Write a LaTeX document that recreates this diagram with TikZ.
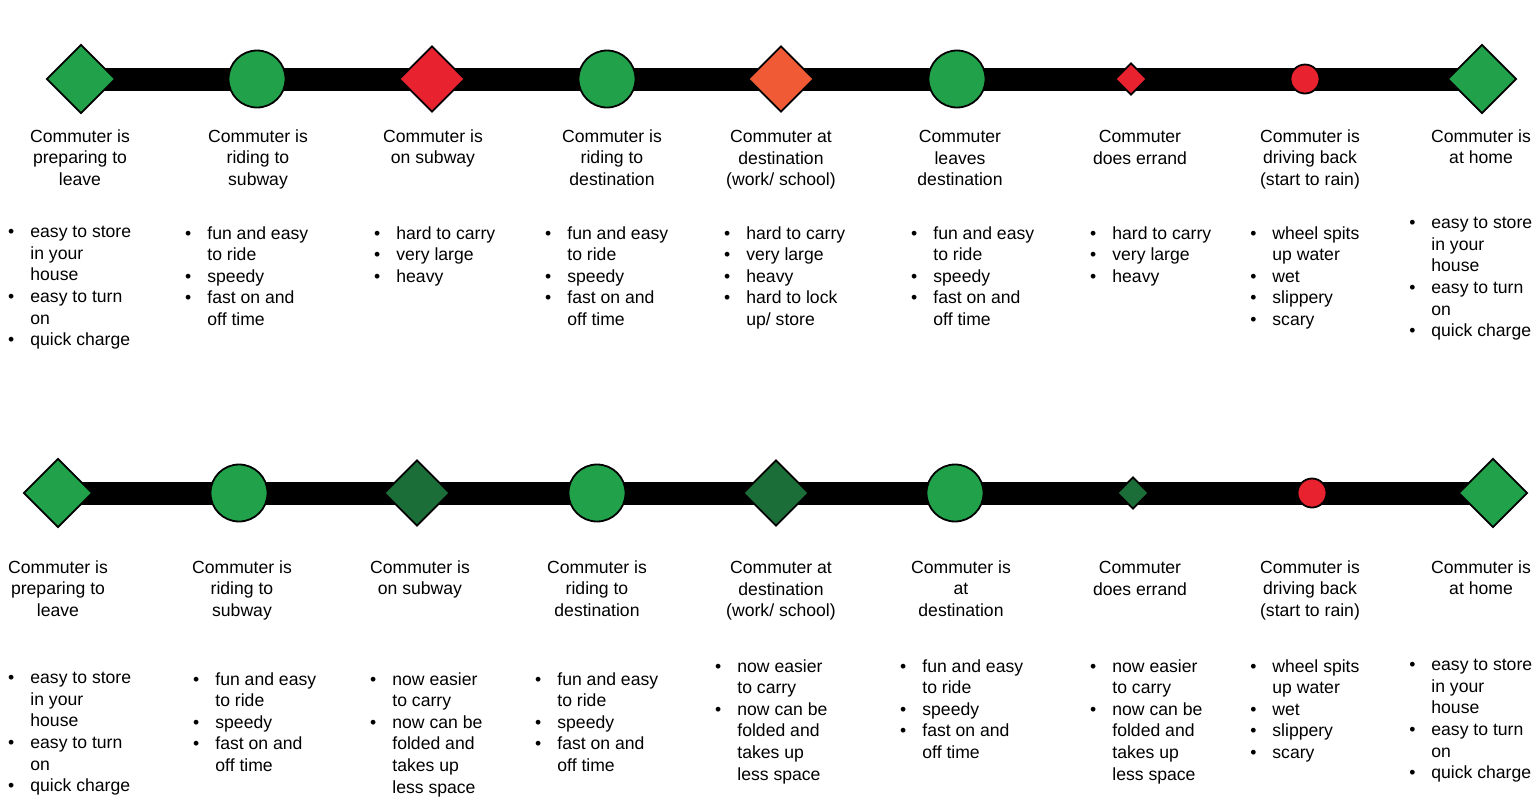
\documentclass[tikz,border=0pt]{standalone}
\usepackage{fontspec}
\setmainfont{Liberation Sans}
\usetikzlibrary{shapes.geometric,backgrounds}

\definecolor{okgreen}{HTML}{22A14B}
\definecolor{deepgreen}{HTML}{1C6E38}
\definecolor{badred}{HTML}{E8222E}
\definecolor{midorange}{HTML}{F05A35}

\newcommand{\bul}{\llap{\textbullet\hspace{8pt}}}

\tikzset{
	stage/.style={draw=black, line width=0.9pt, inner sep=0pt},
	bigdia/.style={stage, diamond, aspect=1, minimum size=34.5pt},
	middia/.style={stage, diamond, aspect=1, minimum size=33pt},
	smalldia/.style={stage, diamond, aspect=1, minimum size=16pt},
	bigdot/.style={stage, circle, minimum size=28.5pt},
	smalldot/.style={stage, circle, minimum size=14.5pt},
	bar/.style={line width=11.5pt, black},
	title/.style={anchor=north, align=center, inner sep=0pt, font=\fontsize{8.8}{10.8}\selectfont},
	items/.style={anchor=north west, align=left, inner sep=0pt, font=\fontsize{8.8}{10.8}\selectfont}
}

\begin{document}
\begin{tikzpicture}[x=0.5pt, y=-0.5pt]
		\useasboundingbox (0, 0) rectangle (1538, 810);

		% top journey
		\node[bigdia, fill=okgreen] (a1) at (81, 79) {};
		\node[bigdot, fill=okgreen] (a2) at (257, 79) {};
		\node[middia, fill=badred] (a3) at (432, 79) {};
		\node[bigdot, fill=okgreen] (a4) at (607, 79) {};
		\node[middia, fill=midorange] (a5) at (781, 79) {};
		\node[bigdot, fill=okgreen] (a6) at (957, 79) {};
		\node[smalldia, fill=badred] (a7) at (1131, 79) {};
		\node[smalldot, fill=badred] (a8) at (1305, 79) {};
		\node[bigdia, fill=okgreen] (a9) at (1482, 79) {};
		\begin{pgfonlayer}{background}
			\draw[bar] (a1.center) -- (a9.center);
		\end{pgfonlayer}

		\node[title] (ta1) at (80, 129) {Commuter is\\preparing to\\leave};
		\node[title] (ta2) at (258, 129) {Commuter is\\riding to\\subway};
		\node[title] (ta3) at (433, 129) {Commuter is\\on subway};
		\node[title] (ta4) at (612, 129) {Commuter is\\riding to\\destination};
		\node[title] (ta5) at (781, 130) {Commuter at\\destination\\(work/ school)};
		\node[title] (ta6) at (960, 130) {Commuter\\leaves\\destination};
		\node[title] (ta7) at (1140, 130) {Commuter\\does errand};
		\node[title] (ta8) at (1310, 129) {Commuter is\\driving back\\(start to rain)};
		\node[title] (ta9) at (1481, 129) {Commuter is\\at home};

		\node[items] (la1) at (30, 226) {\bul easy to store\\in your\\house\\\bul easy to turn\\on\\\bul quick charge};
		\node[items] (la2) at (207, 226) {\bul fun and easy\\to ride\\\bul speedy\\\bul fast on and\\off time};
		\node[items] (la3) at (396, 226) {\bul hard to carry\\\bul very large\\\bul heavy};
		\node[items] (la4) at (567, 226) {\bul fun and easy\\to ride\\\bul speedy\\\bul fast on and\\off time};
		\node[items] (la5) at (746, 226) {\bul hard to carry\\\bul very large\\\bul heavy\\\bul hard to lock\\up/ store};
		\node[items] (la6) at (933, 226) {\bul fun and easy\\to ride\\\bul speedy\\\bul fast on and\\off time};
		\node[items] (la7) at (1112, 226) {\bul hard to carry\\\bul very large\\\bul heavy};
		\node[items] (la8) at (1272, 226) {\bul wheel spits\\up water\\\bul wet\\\bul slippery\\\bul scary};
		\node[items] (la9) at (1431, 217) {\bul easy to store\\in your\\house\\\bul easy to turn\\on\\\bul quick charge};

		% bottom journey
		\node[bigdia, fill=okgreen] (b1) at (58, 493) {};
		\node[bigdot, fill=okgreen] (b2) at (239, 493) {};
		\node[middia, fill=deepgreen] (b3) at (417, 493) {};
		\node[bigdot, fill=okgreen] (b4) at (597, 493) {};
		\node[middia, fill=deepgreen] (b5) at (776, 493) {};
		\node[bigdot, fill=okgreen] (b6) at (955, 493) {};
		\node[smalldia, fill=deepgreen] (b7) at (1133, 493) {};
		\node[smalldot, fill=badred] (b8) at (1312, 493) {};
		\node[bigdia, fill=okgreen] (b9) at (1493, 493) {};
		\begin{pgfonlayer}{background}
			\draw[bar] (b1.center) -- (b9.center);
		\end{pgfonlayer}

		\node[title] (tb1) at (58, 560) {Commuter is\\preparing to\\leave};
		\node[title] (tb2) at (242, 560) {Commuter is\\riding to\\subway};
		\node[title] (tb3) at (420, 560) {Commuter is\\on subway};
		\node[title] (tb4) at (597, 560) {Commuter is\\riding to\\destination};
		\node[title] (tb5) at (781, 561) {Commuter at\\destination\\(work/ school)};
		\node[title] (tb6) at (961, 560) {Commuter is\\at\\destination};
		\node[title] (tb7) at (1140, 561) {Commuter\\does errand};
		\node[title] (tb8) at (1310, 560) {Commuter is\\driving back\\(start to rain)};
		\node[title] (tb9) at (1481, 560) {Commuter is\\at home};

		\node[items] (lb1) at (30, 672) {\bul easy to store\\in your\\house\\\bul easy to turn\\on\\\bul quick charge};
		\node[items] (lb2) at (215, 672) {\bul fun and easy\\to ride\\\bul speedy\\\bul fast on and\\off time};
		\node[items] (lb3) at (392, 672) {\bul now easier\\to carry\\\bul now can be\\folded and\\takes up\\less space};
		\node[items] (lb4) at (557, 672) {\bul fun and easy\\to ride\\\bul speedy\\\bul fast on and\\off time};
		\node[items] (lb5) at (737, 659) {\bul now easier\\to carry\\\bul now can be\\folded and\\takes up\\less space};
		\node[items] (lb6) at (922, 659) {\bul fun and easy\\to ride\\\bul speedy\\\bul fast on and\\off time};
		\node[items] (lb7) at (1112, 659) {\bul now easier\\to carry\\\bul now can be\\folded and\\takes up\\less space};
		\node[items] (lb8) at (1272, 659) {\bul wheel spits\\up water\\\bul wet\\\bul slippery\\\bul scary};
		\node[items] (lb9) at (1431, 659) {\bul easy to store\\in your\\house\\\bul easy to turn\\on\\\bul quick charge};
\end{tikzpicture}
\end{document}
